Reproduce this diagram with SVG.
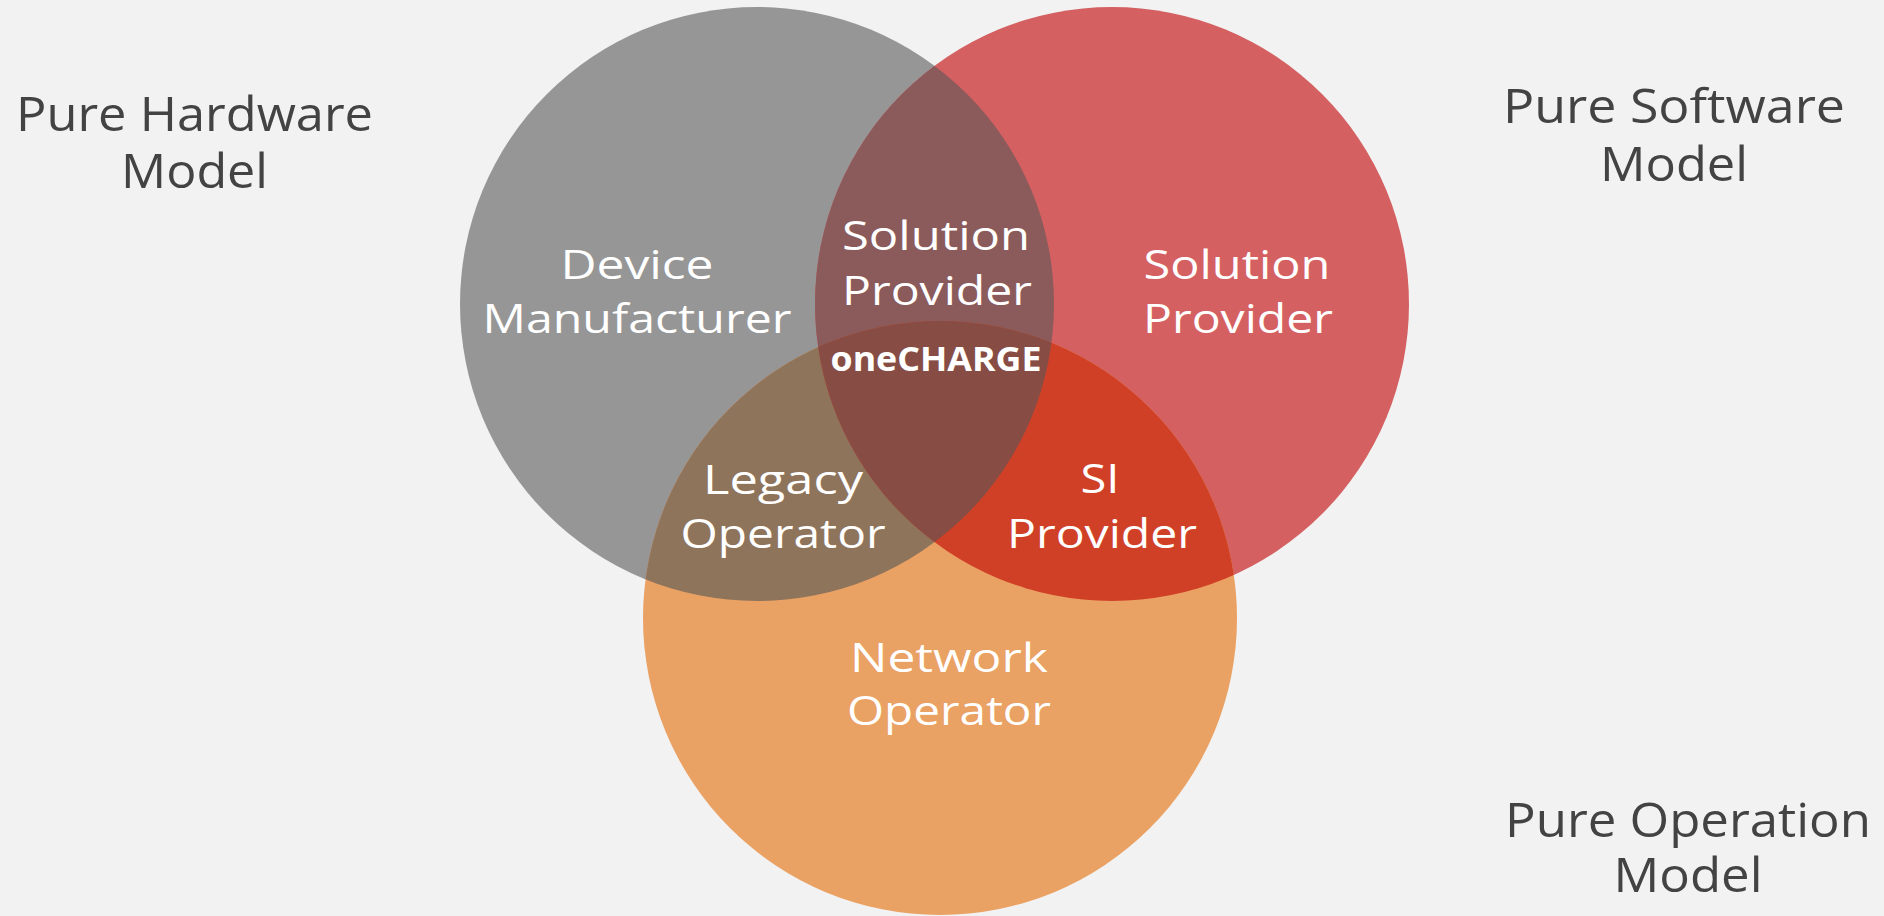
<svg xmlns="http://www.w3.org/2000/svg" width="1884" height="916" viewBox="0 0 1884 916">
<style>
.lbl{font-family:"Open Sans","Liberation Sans",sans-serif;font-size:41px;fill:#ffffff;text-anchor:middle}
.bold{font-family:"Open Sans","Liberation Sans",sans-serif;font-size:34px;font-weight:bold;fill:#ffffff;text-anchor:middle}
.side{font-family:"Open Sans","Liberation Sans",sans-serif;font-size:47px;fill:#434343;text-anchor:middle}
</style>
<defs>
<clipPath id="cG"><circle cx="757" cy="304" r="297"/></clipPath>
<clipPath id="cR"><circle cx="1112" cy="304" r="297"/></clipPath>
</defs>
<rect x="0" y="0" width="1884" height="916" fill="#f2f2f2"/>
<g id="circles">
<circle id="gray" cx="757" cy="304" r="297" fill="#969696"/>
<circle id="red" cx="1112" cy="304" r="297" fill="#d46062"/>
<circle id="orange" cx="940" cy="618" r="297" fill="#eaa164"/>
<circle cx="1112" cy="304" r="297" fill="#8b5a5b" clip-path="url(#cG)"/>
<circle cx="940" cy="618" r="297" fill="#8f745c" clip-path="url(#cG)"/>
<circle cx="940" cy="618" r="297" fill="#d04027" clip-path="url(#cR)"/>
<g clip-path="url(#cG)"><circle cx="940" cy="618" r="297" fill="#874d45" clip-path="url(#cR)"/></g>
</g>
<g id="device-manufacturer">
<text class="lbl" x="637" y="279" textLength="153" lengthAdjust="spacingAndGlyphs">Device</text>
<text class="lbl" x="637" y="333" textLength="309" lengthAdjust="spacingAndGlyphs">Manufacturer</text>
</g>
<g id="solution-provider-center">
<text class="lbl" x="936" y="250" textLength="188" lengthAdjust="spacingAndGlyphs">Solution</text>
<text class="lbl" x="937" y="305" textLength="190" lengthAdjust="spacingAndGlyphs">Provider</text>
</g>
<g id="onecharge">
<text class="bold" x="936" y="371" textLength="211" lengthAdjust="spacingAndGlyphs">oneCHARGE</text>
</g>
<g id="solution-provider-right">
<text class="lbl" x="1237" y="279" textLength="187" lengthAdjust="spacingAndGlyphs">Solution</text>
<text class="lbl" x="1238" y="333" textLength="190" lengthAdjust="spacingAndGlyphs">Provider</text>
</g>
<g id="legacy-operator">
<text class="lbl" x="783" y="494" textLength="160" lengthAdjust="spacingAndGlyphs">Legacy</text>
<text class="lbl" x="783" y="548" textLength="205" lengthAdjust="spacingAndGlyphs">Operator</text>
</g>
<g id="si-provider">
<text class="lbl" x="1100" y="493" textLength="39" lengthAdjust="spacingAndGlyphs">SI</text>
<text class="lbl" x="1102" y="548" textLength="190" lengthAdjust="spacingAndGlyphs">Provider</text>
</g>
<g id="network-operator">
<text class="lbl" x="949" y="672" textLength="198" lengthAdjust="spacingAndGlyphs">Network</text>
<text class="lbl" x="949" y="725" textLength="204" lengthAdjust="spacingAndGlyphs">Operator</text>
</g>
<g id="pure-hardware">
<text class="side" x="194.5" y="131" textLength="357" lengthAdjust="spacingAndGlyphs">Pure Hardware</text>
<text class="side" x="194.5" y="188" textLength="147" lengthAdjust="spacingAndGlyphs">Model</text>
</g>
<g id="pure-software">
<text class="side" x="1674" y="123" textLength="342" lengthAdjust="spacingAndGlyphs">Pure Software</text>
<text class="side" x="1674" y="181" textLength="148" lengthAdjust="spacingAndGlyphs">Model</text>
</g>
<g id="pure-operation">
<text class="side" x="1688" y="837" textLength="366" lengthAdjust="spacingAndGlyphs">Pure Operation</text>
<text class="side" x="1688" y="892" textLength="149" lengthAdjust="spacingAndGlyphs">Model</text>
</g>
</svg>
